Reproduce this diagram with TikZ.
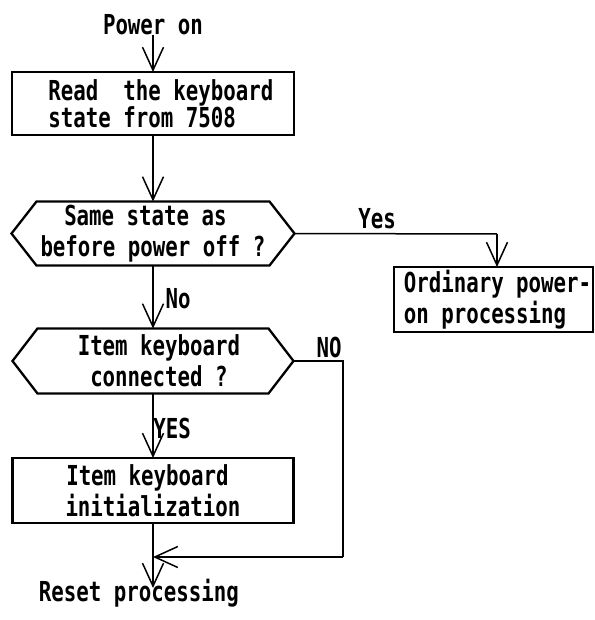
\documentclass[tikz,border=0pt]{standalone}
\usepackage{fontspec}
\setmainfont{DejaVu Sans Mono}[UprightFont={* Bold}, FakeStretch=0.755]
\usetikzlibrary{arrows.meta}
\begin{document}
\begin{tikzpicture}[x=1pt,y=-1pt,
  every node/.style={font=\fontsize{27.5}{31}\selectfont, inner sep=0pt, outer sep=0pt},
  box/.style={draw, line width=2.3pt, rectangle},
  hexn/.style={rectangle, align=center},
  shp/.style={line width=2.3pt, line join=miter},
  conn/.style={line width=1.5pt},
  arr/.style={conn, -{Straight Barb[length=23pt,width=21pt]}},
  lbl/.style={anchor=base}]
\useasboundingbox (0,0) rectangle (594,620);

% nodes
\node[lbl] (pw) at (153,35) {Power on};
\node[box, minimum width=282pt, minimum height=63pt, align=left,
      font=\fontsize{27.5}{27}\selectfont] (b1) at (153,103.5)
  {\hspace*{16pt}Read~~the keyboard\\\hspace*{16pt}state from 7508};
\node[hexn, minimum width=283pt, minimum height=64pt] (h1) at (153,233.5)
  {Same state as\hspace*{15pt}\\before power off ?};
\node[box, minimum width=199pt, minimum height=65pt, align=left] (b2) at (493.5,299.5)
  {\hspace*{8pt}Ordinary power-\\\hspace*{8pt}on processing};
\node[hexn, minimum width=281pt, minimum height=65pt] (h2) at (153,361)
  {\hspace*{12pt}Item keyboard\\\hspace*{12pt}connected ?};
\node[box, minimum width=281pt, minimum height=65pt, align=center] (b3) at (153,490.5)
  {Item keyboard\hspace*{11pt}\\initialization};
\node[lbl] (rs) at (139,601) {Reset processing};

% labels
\node[lbl] (yes) at (377,228) {Yes};
\node[lbl] (no1) at (178,308) {No};
\node[lbl] (no2) at (329,357) {NO};
\node[lbl] (yes2) at (172,438) {YES};

% hexagon outlines
\draw[shp] (h1.west) -- ([xshift=25pt]h1.north west) -- ([xshift=-25pt]h1.north east)
  -- (h1.east) -- ([xshift=-25pt]h1.south east) -- ([xshift=25pt]h1.south west) -- cycle;
\draw[shp] (h2.west) -- ([xshift=25pt]h2.north west) -- ([xshift=-25pt]h2.north east)
  -- (h2.east) -- ([xshift=-25pt]h2.south east) -- ([xshift=25pt]h2.south west) -- cycle;

% connectors
\coordinate (yc) at (497,234);
\coordinate (nc) at (343,557);
\coordinate (rt) at (153,588);
\draw[arr] (pw.south) -- (b1.north);
\draw[arr] (b1.south) -- (h1.north);
\draw[conn] (h1.east) -- (yc);
\draw[arr] (yc) -- (yc |- b2.north);
\draw[arr] (h1.south) -- (h2.north);
\draw[arr] (h2.south) -- (b3.north);
\draw[conn] (h2.east) -| (nc);
\draw[arr] (nc) -- (nc -| b3.south);
\draw[arr] (b3.south) -- (rt);
\end{tikzpicture}
\end{document}
